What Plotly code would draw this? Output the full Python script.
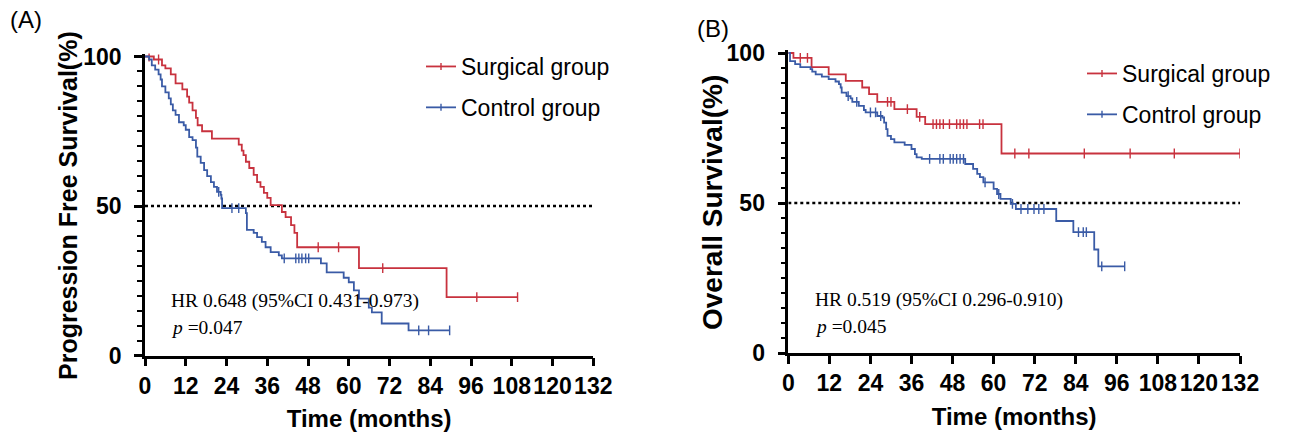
import numpy as np
import plotly.graph_objects as go

# ---------------- data ----------------
months_ticks = [0, 12, 24, 36, 48, 60, 72, 84, 96, 108, 120, 132]
pct_ticks = [0, 50, 100]

# Panel A: Progression free survival
pfs_surg_t = [0, 2.6, 5, 6, 7.6, 9, 11, 12.4, 13, 14, 15, 15.5, 16.8, 19.7, 27.6, 28.5, 29,
              29.7, 30.7, 32, 33, 34, 35, 36, 37, 40.3, 41.4, 43, 44, 44.8, 63, 88.8, 109.7]
pfs_surg_s = [100, 99, 97, 96, 94, 91, 89, 86.6, 84.6, 82, 79.5, 77, 75, 72.5, 70.5, 68.5, 67,
              64.8, 62.7, 60.4, 58, 56.4, 54.4, 52.7, 50.3, 48, 46.3, 43.6, 41, 36.2, 29.2, 19.5, 19.5]
pfs_surg_cens = [1.2, 4, 51, 57, 70, 97.7, 109.7]

pfs_ctrl_t = [0, 1.2, 2, 3, 4, 4.6, 5, 6, 7, 7.6, 8.2, 9, 10, 11.4, 12, 13, 14, 15, 15.4, 16.4,
              17.4, 18.3, 19.4, 20.3, 21.2, 22.3, 22.5, 22.7, 29.7, 30, 32, 33, 34.4, 35.5, 37,
              39.4, 40.3, 51.8, 53.5, 58.5, 60, 61.5, 63, 65.9, 66.8, 69.7, 77.6, 89.7]
pfs_ctrl_s = [100, 99, 97, 95.6, 94, 92.3, 90, 88, 86, 84, 82, 80.5, 78, 77, 75.5, 73, 72, 69.5,
              66.5, 64.4, 62, 60, 58, 56.4, 54.7, 53.7, 52.5, 49.3, 47.6, 42, 41, 39.6, 38, 36.2,
              34.6, 33.5, 32.5, 30.8, 27.8, 26, 24.5, 21.8, 19, 16, 14.4, 10.7, 8.4, 8.4]
pfs_ctrl_cens = [21.7, 25.6, 27.6, 41, 44.4, 45.3, 46.2, 47.3, 48.2, 80.6, 83.5, 89.7]

# Panel B: Overall survival
os_surg_t = [0, 1.5, 6.8, 11.8, 16.8, 21.6, 23.6, 26, 31, 37.5, 40, 62.3, 132]
os_surg_s = [100, 98.4, 95.3, 92.9, 90.7, 88.5, 86.3, 83.7, 81.3, 78.7, 76.3, 66.5, 66.5]
os_surg_cens = [3.5, 5.6, 29, 30, 34.8, 38.4, 42.3, 43.3, 44.3, 45.3, 47.1, 49.2, 50.2, 51.2,
                52.2, 55.9, 56.9, 66.2, 70.3, 86.5, 99.9, 112.8, 132]

os_ctrl_t = [0, 0.5, 2, 3.5, 6.5, 7, 8, 9.8, 11.8, 13.8, 14.8, 15.3, 15.6, 17, 18.2, 18.7, 20.6,
             22.1, 22.6, 26, 27.5, 28, 28.6, 29, 30, 31, 34, 36, 37, 37.5, 39, 51.7, 54, 55.2,
             56, 57, 60, 61, 62, 65, 66.5, 78.3, 83.3, 89.4, 90.6, 98.3]
os_ctrl_s = [100, 97.3, 96.3, 95.3, 94.6, 93.8, 92.9, 92.1, 91.3, 90.5, 89.6, 88.5, 86.8, 85.6,
             84.9, 83.7, 82.4, 81, 80.2, 79, 78.5, 76.8, 74.6, 72.4, 71.3, 70.2, 69.4, 68, 66.3,
             65.2, 64.7, 63, 61.4, 59.7, 58.6, 56.9, 54.7, 53, 51.4, 49.7, 48, 44, 40.3, 34.5,
             28.9, 28.9]
os_ctrl_cens = [17.5, 20, 24, 25.5, 27, 41.3, 44.3, 45.3, 47.3, 48.2, 49.2, 50.2, 51.2, 57.5,
                61.5, 65.5, 68, 70, 71.8, 73.2, 74.7, 84.8, 86.2, 87.1, 91.6, 98.3]

median_line_x = [0, 132]
median_line_y = [50, 50]

group_names = ["Surgical group", "Control group"]
hr_texts = ["HR 0.648 (95%CI 0.431-0.973)", "HR 0.519 (95%CI 0.296-0.910)"]
p_texts = ["0.047", "0.045"]
y_titles = ["Progression Free Survival(%)", "Overall Survival(%)"]
panel_labels = ["(A)", "(B)"]

# ---------------- styling ----------------
W, H = 1294, 439
RED = "#C8323E"
BLUE = "#3A5BA6"
SANS = "Liberation Sans, Arial, sans-serif"
SERIF = "Liberation Serif, Times New Roman, serif"


def step_at(times, surv, c):
    t = np.asarray(times, dtype=float)
    s = np.asarray(surv, dtype=float)
    idx = np.searchsorted(t, np.asarray(c, dtype=float), side="right") - 1
    return s[np.clip(idx, 0, len(s) - 1)]


fig = go.Figure()

panels = [
    ("x", "y", "legend", [(pfs_surg_t, pfs_surg_s, pfs_surg_cens, RED),
                          (pfs_ctrl_t, pfs_ctrl_s, pfs_ctrl_cens, BLUE)]),
    ("x2", "y2", "legend2", [(os_surg_t, os_surg_s, os_surg_cens, RED),
                             (os_ctrl_t, os_ctrl_s, os_ctrl_cens, BLUE)]),
]

for pi, (xa, ya, lg, series) in enumerate(panels):
    # 50% reference line
    fig.add_trace(go.Scatter(x=median_line_x, y=median_line_y, mode="lines",
                             line=dict(color="black", width=2.5, dash="dot"),
                             xaxis=xa, yaxis=ya, showlegend=False, hoverinfo="skip"))
    for gi, (t, s, c, col) in enumerate(series):
        fig.add_trace(go.Scatter(x=t, y=s, mode="lines", line=dict(color=col, width=1.8, shape="hv"),
                                 xaxis=xa, yaxis=ya, showlegend=False, name=group_names[gi]))
        fig.add_trace(go.Scatter(x=c, y=step_at(t, s, c), mode="markers",
                                 marker=dict(symbol="line-ns", size=7, color=col,
                                             line=dict(color=col, width=1.4)),
                                 xaxis=xa, yaxis=ya, showlegend=False, name=group_names[gi]))
        # legend entry
        fig.add_trace(go.Scatter(x=[None], y=[None], mode="lines+markers", name=group_names[gi],
                                 line=dict(color=col, width=1.8),
                                 marker=dict(symbol="line-ns", size=5, color=col,
                                             line=dict(color=col, width=1.4)),
                                 xaxis=xa, yaxis=ya, legend=lg, legendgroup=f"{lg}{gi}",
                                 showlegend=True))

axis_common = dict(showline=True, linecolor="black", linewidth=2.5, ticks="outside",
                   ticklen=8, tickwidth=2.5, tickcolor="black", showgrid=False, zeroline=False,
                   automargin=False,
                   tickfont=dict(family=SANS, size=23, color="black", weight="bold"))

xdoms = [[145 / W, 593.3 / W], [788.3 / W, 1240 / W]]
ydoms = [[1 - 355.5 / H, 1 - 53.5 / H], [1 - 353 / H, 1 - 50 / H]]

layout_axes = {}
for i in range(2):
    sfx = "" if i == 0 else "2"
    layout_axes[f"xaxis{sfx}"] = dict(
        axis_common, domain=xdoms[i], range=[0, 132], tickvals=months_ticks,
        anchor="y" + sfx,
        title=dict(text="<b>Time (months)</b>", font=dict(family=SANS, size=24, color="black"),
                   standoff=13))
    layout_axes[f"yaxis{sfx}"] = dict(
        axis_common, domain=ydoms[i], range=[0, 101], tickvals=pct_ticks,
        anchor="x" + sfx, ticklabelstandoff=8,
        minor=dict(dtick=5, tick0=0, ticks="outside", ticklen=5, tickwidth=2, tickcolor="black",
                   showgrid=False))

fig.update_layout(
    width=W, height=H,
    margin=dict(l=0, r=0, t=0, b=0, autoexpand=False),
    paper_bgcolor="white", plot_bgcolor="white",
    **layout_axes,
    legend=dict(x=421 / W, y=1 - 45 / H, xanchor="left", yanchor="top",
                traceorder="grouped", tracegroupgap=8, bgcolor="rgba(0,0,0,0)",
                font=dict(family=SANS, size=23, color="black")),
    legend2=dict(x=1082 / W, y=1 - 52 / H, xanchor="left", yanchor="top",
                 traceorder="grouped", tracegroupgap=8, bgcolor="rgba(0,0,0,0)",
                 font=dict(family=SANS, size=23, color="black")),
)

# y-axis titles (rotated text)
ytitle_pos = [(68 / W, 1 - 206 / H, 25), (712 / W, 1 - 203 / H, 28)]
for i in range(2):
    xp, yp, fs = ytitle_pos[i]
    fig.add_annotation(x=xp, y=yp, xref="paper", yref="paper", text=f"<b>{y_titles[i]}</b>",
                       textangle=-90, showarrow=False, xanchor="center", yanchor="middle",
                       font=dict(family=SANS, size=fs, color="black"))

# HR / p annotations (data coordinates)
hr_pos = [(7.0, 18.2, 9.5), (7.2, 17.7, 9.0)]
for i in range(2):
    sfx = "" if i == 0 else "2"
    x0, yh, yp = hr_pos[i]
    fig.add_annotation(x=x0, y=yh, xref="x" + sfx, yref="y" + sfx, text=hr_texts[i],
                       showarrow=False, xanchor="left", yanchor="middle",
                       font=dict(family=SERIF, size=19.5, color="black"))
    fig.add_annotation(x=x0, y=yp, xref="x" + sfx, yref="y" + sfx,
                       text=f"<i>p</i> ={p_texts[i]}",
                       showarrow=False, xanchor="left", yanchor="middle",
                       font=dict(family=SERIF, size=19.5, color="black"))

# panel labels
label_pos = [(8 / W, 1 - 20 / H), (695 / W, 1 - 28 / H)]
for i in range(2):
    fig.add_annotation(x=label_pos[i][0], y=label_pos[i][1], xref="paper", yref="paper",
                       text=panel_labels[i], showarrow=False, xanchor="left", yanchor="middle",
                       font=dict(family=SANS, size=24, color="black"))

fig.write_html("out.html", config={"displayModeBar": False},
               post_script="document.body.style.margin='0';")
